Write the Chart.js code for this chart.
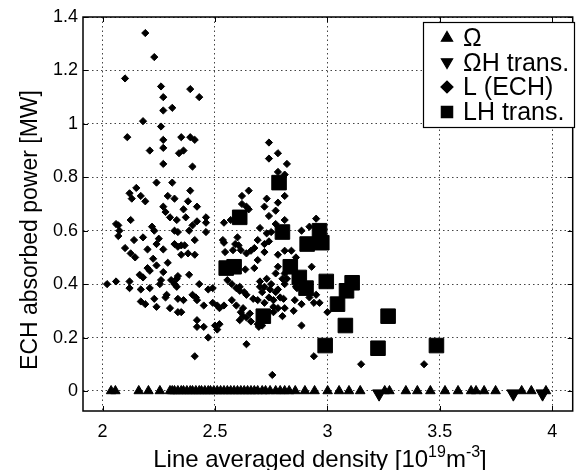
<!DOCTYPE html>
<html>
<head>
<meta charset="utf-8">
<script src="https://cdn.jsdelivr.net/npm/chart.js@4.4.1/dist/chart.umd.min.js"></script>
<style>
  html, body { margin: 0; padding: 0; background: #fff; }
  canvas { display: block; }
</style>
</head>
<body>
<canvas id="c" width="584" height="470"></canvas>
<script>
// Ohmic discharges (no ECH power)
const omegaDensity = [2.038, 2.057, 2.161, 2.204, 2.255, 2.30, 2.31, 2.32, 2.335, 2.35, 2.36, 2.375, 2.39, 2.40, 2.415,
  2.43, 2.44, 2.455, 2.47, 2.48, 2.495, 2.51, 2.525, 2.54, 2.555, 2.57, 2.585, 2.60, 2.615, 2.63, 2.645, 2.66, 2.675,
  2.69, 2.71, 2.725, 2.745, 2.77, 2.79, 2.81, 2.83, 2.857, 2.90, 2.943, 3.001, 3.052, 3.096, 3.146, 3.255, 3.276,
  3.349, 3.40, 3.458, 3.523, 3.581, 3.639, 3.661, 3.697, 3.748, 3.864, 3.907, 3.972];
const omegaPower = [0, 0, 0, 0, 0, 0, 0, 0, 0, 0, 0, 0, 0, 0, 0,
  0, 0, 0, 0, 0, 0, 0, 0, 0, 0, 0, 0, 0, 0, 0, 0, 0, 0,
  0, 0, 0, 0, 0, 0, 0, 0, 0, 0, 0, 0, 0, 0, 0, 0, 0,
  0, 0, 0, 0, 0, 0, 0, 0, 0, 0, 0, 0];

// Ohmic -> H transitions
const omegaHDensity = [3.23, 3.827, 3.957];
const omegaHPower = [-0.01, -0.01, -0.01];

// L-mode discharges with ECH
const lDensity = [2.19, 2.23, 2.10, 2.26, 2.39, 2.27, 2.43, 2.27, 2.31, 2.18, 2.26, 2.11, 2.27, 2.35, 2.39, 2.41,
  2.21, 2.27, 2.34, 2.36, 2.27, 2.40, 2.74, 2.78, 2.74, 2.82, 2.78, 2.81, 2.15, 2.24, 2.31, 2.39, 2.12, 2.17, 2.29,
  2.32, 2.62, 2.65, 2.81, 2.13, 2.19, 2.38, 2.42, 2.36, 2.27, 2.28, 2.30, 2.33, 2.37, 2.40, 2.42, 2.46, 2.46, 2.125,
  2.07, 2.22, 2.23, 2.32, 2.335, 2.385, 2.46, 2.06, 2.075, 2.62, 2.64, 2.65, 2.73, 2.72, 2.78, 2.77, 2.74, 2.81, 2.70,
  2.75, 2.77, 2.73, 2.54, 2.57, 2.885, 2.92, 2.95, 2.07, 2.14, 2.18, 2.25, 2.24, 2.20, 2.27, 2.32, 2.335, 2.365, 2.10,
  2.125, 2.145, 2.35, 2.38, 2.41, 2.225, 2.29, 2.24, 2.20, 2.21, 2.165, 2.18, 2.27, 2.33, 2.335, 2.385, 2.41, 2.35,
  2.535, 2.60, 2.605, 2.545, 2.58, 2.615, 2.59, 2.54, 2.64, 2.66, 2.675, 2.69, 2.72, 2.74, 2.72, 2.69, 2.78, 2.81,
  2.84, 2.86, 2.635, 2.675, 2.78, 2.77, 2.81, 2.80, 2.82, 2.81, 2.93, 2.86, 2.02, 2.06, 2.12, 2.12, 2.255, 2.26,
  2.305, 2.32, 2.33, 2.17, 2.21, 2.43, 2.47, 2.49, 2.555, 2.575, 2.595, 2.61, 2.61, 2.63, 2.64, 2.67, 2.69, 2.70,
  2.70, 2.72, 2.75, 2.77, 2.74, 2.76, 2.78, 2.73, 2.71, 2.79, 2.745, 2.76, 2.72, 2.28, 2.285, 2.23, 2.335, 2.36,
  2.40, 2.17, 2.19, 2.24, 2.30, 2.335, 2.35, 2.415, 2.42, 2.45, 2.49, 2.51, 2.54, 2.52, 2.575, 2.42, 2.42, 2.45,
  2.52, 2.50, 2.51, 2.47, 2.41, 2.61, 2.595, 2.625, 2.655, 2.625, 2.615, 2.64, 2.66, 2.695, 2.69, 2.71, 2.64, 2.755,
  2.805, 2.81, 2.80, 2.78, 2.76, 2.95, 2.92, 2.94, 2.965, 3.00, 2.885, 2.885, 2.85, 2.855, 2.865, 2.94, 3.15, 3.43];
const lPower = [1.34, 1.25, 1.17, 1.14, 1.13, 1.10, 1.10, 1.05, 1.06, 1.01, 0.99, 0.95, 0.94, 0.95, 0.95, 0.94,
  0.90, 0.91, 0.89, 0.90, 0.85, 0.84, 0.93, 0.89, 0.87, 0.85, 0.82, 0.81, 0.76, 0.78, 0.78, 0.75, 0.74, 0.73, 0.73,
  0.72, 0.73, 0.75, 0.73, 0.72, 0.71, 0.71, 0.69, 0.68, 0.69, 0.67, 0.65, 0.64, 0.65, 0.62, 0.635, 0.63, 0.65, 0.64,
  0.62, 0.615, 0.60, 0.60, 0.595, 0.60, 0.595, 0.625, 0.60, 0.70, 0.69, 0.68, 0.72, 0.69, 0.705, 0.675, 0.655, 0.64, 0.61,
  0.595, 0.625, 0.59, 0.63, 0.64, 0.60, 0.615, 0.645, 0.58, 0.565, 0.575, 0.57, 0.55, 0.53, 0.53, 0.55, 0.54, 0.545, 0.535,
  0.515, 0.50, 0.51, 0.515, 0.51, 0.495, 0.48, 0.47, 0.46, 0.45, 0.435, 0.425, 0.445, 0.42, 0.43, 0.435, 0.565, 0.545,
  0.565, 0.575, 0.545, 0.52, 0.527, 0.527, 0.55, 0.555, 0.515, 0.525, 0.535, 0.565, 0.55, 0.56, 0.52, 0.49, 0.51, 0.525,
  0.525, 0.50, 0.455, 0.46, 0.465, 0.44, 0.44, 0.42, 0.42, 0.40, 0.465, 0.39, 0.40, 0.41, 0.41, 0.385, 0.40, 0.415,
  0.415, 0.40, 0.39, 0.38, 0.385, 0.40, 0.38, 0.385, 0.415, 0.40, 0.385, 0.375, 0.39, 0.37, 0.36, 0.345, 0.34, 0.41,
  0.39, 0.39, 0.40, 0.37, 0.35, 0.34, 0.38, 0.42, 0.37, 0.35, 0.38, 0.315, 0.33, 0.35, 0.36, 0.345, 0.345, 0.34,
  0.36, 0.335, 0.325, 0.315, 0.31, 0.295, 0.295, 0.35, 0.34, 0.32, 0.33, 0.32, 0.32, 0.31, 0.34, 0.265, 0.24, 0.24,
  0.25, 0.245, 0.23, 0.20, 0.13, 0.265, 0.32, 0.31, 0.29, 0.28, 0.295, 0.275, 0.26, 0.24, 0.25, 0.245, 0.175, 0.06,
  0.345, 0.31, 0.28, 0.31, 0.295, 0.36, 0.35, 0.33, 0.33, 0.295, 0.325, 0.245, 0.30, 0.34, 0.385, 0.13, 0.10, 0.10];

// L -> H transitions
const lhDensity = [2.61, 2.785, 2.80, 2.91, 2.965, 2.975, 2.55, 2.585, 2.835, 2.875, 2.905, 2.995, 3.045, 3.085,
  3.11, 3.08, 3.27, 2.99, 3.225, 3.485, 2.715];
const lhPower = [0.65, 0.78, 0.595, 0.55, 0.60, 0.555, 0.46, 0.465, 0.465, 0.425, 0.385, 0.41, 0.325, 0.375,
  0.405, 0.245, 0.28, 0.17, 0.16, 0.17, 0.28];

const xTicks = [2, 2.5, 3, 3.5, 4];
const yTicks = [0, 0.2, 0.4, 0.6, 0.8, 1, 1.2, 1.4];
const legendLabels = ['\u03A9', '\u03A9H trans.', 'L (ECH)', 'LH trans.'];

const FONT = '"Liberation Sans", Arial, Helvetica, sans-serif';
const toPoints = (xs, ys) => xs.map((x, i) => ({ x: x, y: ys[i] }));

const markerStyles = [
  { pointStyle: 'triangle', radius: 5.5, rotation: 0 },
  { pointStyle: 'triangle', radius: 7.5, rotation: 180 },
  { pointStyle: 'rectRot', radius: 3.6, rotation: 0 },
  { pointStyle: 'rect', radius: 10.3, rotation: 0 }
];

function dataset(label, xs, ys, style, order) {
  return {
    label: label,
    data: toPoints(xs, ys),
    showLine: false,
    pointStyle: style.pointStyle,
    pointRadius: style.radius,
    pointRotation: style.rotation,
    pointBackgroundColor: '#000',
    pointBorderColor: '#000',
    pointBorderWidth: 1,
    order: order
  };
}

// Frame, inward tick marks, axis titles and the boxed legend
const decorations = {
  id: 'decorations',
  afterDatasetsDraw(chart) {
    const ctx = chart.ctx;
    const a = chart.chartArea;
    const xs = chart.scales.x, ys = chart.scales.y;
    ctx.save();

    // frame
    ctx.strokeStyle = '#000';
    ctx.lineWidth = 1.5;
    ctx.strokeRect(a.left, a.top, a.right - a.left, a.bottom - a.top);

    // inward tick marks
    ctx.lineWidth = 1;
    ctx.beginPath();
    xTicks.forEach(v => {
      const px = Math.round(xs.getPixelForValue(v)) + 0.5;
      ctx.moveTo(px, a.bottom); ctx.lineTo(px, a.bottom - 5);
      ctx.moveTo(px, a.top); ctx.lineTo(px, a.top + 5);
    });
    yTicks.forEach(v => {
      const py = Math.round(ys.getPixelForValue(v)) + 0.5;
      ctx.moveTo(a.left, py); ctx.lineTo(a.left + 5, py);
      ctx.moveTo(a.right, py); ctx.lineTo(a.right - 5, py);
    });
    ctx.stroke();

    // legend box
    const box = { x: 423, y: 22, w: 151, h: 105 };
    ctx.fillStyle = '#fff';
    ctx.fillRect(box.x, box.y, box.w, box.h);
    ctx.strokeStyle = '#000';
    ctx.lineWidth = 1.2;
    ctx.strokeRect(box.x + 0.5, box.y + 0.5, box.w, box.h);
    const legendMarkers = [
      { pointStyle: 'triangle', radius: 6.5, rotation: 0, borderWidth: 1 },
      { pointStyle: 'triangle', radius: 6.5, rotation: 180, borderWidth: 1 },
      { pointStyle: 'rectRot', radius: 6, rotation: 0, borderWidth: 1 },
      { pointStyle: 'rect', radius: 8, rotation: 0, borderWidth: 1 }
    ];
    const rows = [38, 63, 87, 112];
    ctx.fillStyle = '#000';
    ctx.strokeStyle = '#000';
    ctx.font = '25px ' + FONT;
    ctx.textAlign = 'left';
    ctx.textBaseline = 'middle';
    legendLabels.forEach((t, i) => {
      Chart.helpers.drawPoint(ctx, legendMarkers[i], 447, rows[i] + (i === 1 ? -1 : 0));
      ctx.fillStyle = '#000';
      ctx.fillText(t, 463, rows[i] + 1);
    });

    // x title with superscripts
    const parts = [
      ['Line averaged density [10', 24, 0],
      ['19', 16, -10],
      ['m', 24, 0],
      ['-3', 16, -10],
      [']', 24, 0]
    ];
    ctx.textBaseline = 'alphabetic';
    let total = 0;
    parts.forEach(p => { ctx.font = p[1] + 'px ' + FONT; total += ctx.measureText(p[0]).width; });
    let cx = 320 - total / 2;
    parts.forEach(p => {
      ctx.font = p[1] + 'px ' + FONT;
      ctx.fillText(p[0], cx, 467 + p[2]);
      cx += ctx.measureText(p[0]).width;
    });

    // y title
    ctx.translate(37, 230);
    ctx.rotate(-Math.PI / 2);
    ctx.font = '23px ' + FONT;
    ctx.textAlign = 'center';
    ctx.fillText('ECH absorbed power [MW]', 0, 0);

    ctx.restore();
  }
};

new Chart(document.getElementById('c'), {
  type: 'scatter',
  data: {
    datasets: [
      dataset(legendLabels[3], lhDensity, lhPower, markerStyles[3], 0),
      dataset(legendLabels[2], lDensity, lPower, markerStyles[2], 1),
      dataset(legendLabels[1], omegaHDensity, omegaHPower, markerStyles[1], 2),
      dataset(legendLabels[0], omegaDensity, omegaPower, markerStyles[0], 3)
    ]
  },
  options: {
    responsive: false,
    animation: false,
    devicePixelRatio: 1,
    layout: { padding: { top: 17, right: 0, bottom: 0, left: 0 } },
    plugins: { legend: { display: false }, tooltip: { enabled: false } },
    scales: {
      x: {
        type: 'linear',
        min: 1.913,
        max: 4.091,
        afterBuildTicks: s => { s.ticks = xTicks.map(v => ({ value: v })); },
        afterFit: s => { s.height = 59; },
        ticks: { font: { family: FONT, size: 18 }, color: '#000', padding: 10, maxRotation: 0,
                 callback: v => String(v) },
        grid: { color: '#444', lineWidth: 1, drawTicks: false },
        border: { display: false, dash: [1.5, 3] }
      },
      y: {
        type: 'linear',
        min: -0.075,
        max: 1.4,
        afterBuildTicks: s => { s.ticks = yTicks.map(v => ({ value: v })); },
        afterFit: s => { s.width = 83; },
        ticks: { font: { family: FONT, size: 18 }, color: '#000', padding: 5,
                 callback: v => String(v) },
        grid: { color: '#444', lineWidth: 1, drawTicks: false },
        border: { display: false, dash: [1.5, 3] }
      }
    }
  },
  plugins: [decorations]
});
</script>
</body>
</html>
